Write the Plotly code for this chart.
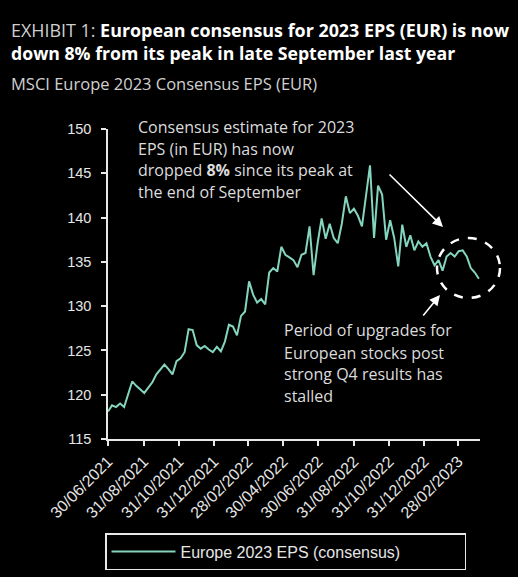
import plotly.graph_objects as go
import pandas as pd

# ---- data ----
series_name = "Europe 2023 EPS (consensus)"
start_date = "2021-06-30"
eps_values = [
    118.1, 118.8, 118.6, 119.0, 118.6, 120.0, 121.5, 121.0, 120.6, 120.2,
    120.8, 121.4, 122.3, 122.9, 123.4, 122.9, 122.3, 123.8, 124.1, 124.8,
    127.4, 127.3, 125.6, 125.2, 125.5, 125.1, 124.8, 125.4, 124.9, 126.0,
    127.9, 127.7, 126.7, 128.9, 129.4, 132.8, 131.3, 130.4, 130.8, 130.2,
    133.8, 134.3, 133.9, 136.7, 135.8, 135.5, 135.2, 134.4, 135.8, 136.0,
    139.0, 133.5, 137.1, 139.9, 137.6, 139.3, 137.7, 137.1, 139.3, 142.4,
    140.5, 141.0, 140.2, 139.0, 142.7, 145.9, 137.7, 143.6, 142.6, 137.5,
    139.7, 137.7, 134.5, 139.2, 136.7, 138.0, 136.3, 137.3, 136.7, 137.1,
    135.6, 134.6, 135.2, 134.0, 135.6, 136.0, 135.6, 136.2, 136.3, 135.6,
    134.3, 133.8, 133.1,
]
dates = pd.date_range(start=start_date, periods=len(eps_values), freq="7D")

tick_dates = ["2021-06-30", "2021-08-31", "2021-10-31", "2021-12-31", "2022-02-28",
              "2022-04-30", "2022-06-30", "2022-08-31", "2022-10-31", "2022-12-31",
              "2023-02-28"]
tick_labels = ["30/06/2021", "31/08/2021", "31/10/2021", "31/12/2021", "28/02/2022",
               "30/04/2022", "30/06/2022", "31/08/2022", "31/10/2022", "31/12/2022",
               "28/02/2023"]
y_ticks = [115, 120, 125, 130, 135, 140, 145, 150]

title_prefix = "EXHIBIT 1: "
title_line1 = "European consensus for 2023 EPS (EUR) is now"
title_line2 = "down 8% from its peak in late September last year"
subtitle = "MSCI Europe 2023 Consensus EPS (EUR)"
note1_lines = ["Consensus estimate for 2023", "EPS (in EUR) has now",
               "dropped <b>8%</b> since its peak at", "the end of September"]
note2_lines = ["Period of upgrades for", "European stocks post",
               "strong Q4 results has", "stalled"]

# ---- layout geometry (pixels) ----
W, H = 518, 577
L, R, T, B = 108, 38, 129, 138
pw, ph = W - L - R, H - T - B


def px(x):
    return (x - L) / pw


def py(y):
    return (H - B - y) / ph


LINE_COLOR = "#84d4be"
TEXT = "#dcdcdc"

fig = go.Figure()
fig.add_trace(go.Scatter(x=dates, y=eps_values, mode="lines", name=series_name,
                         line=dict(color=LINE_COLOR, width=2)))

annotations = []
# title
annotations.append(dict(xref="paper", yref="paper", x=px(9), y=py(30), xanchor="left", yanchor="middle",
                        text=f"<span style='color:#cfcfcf'>{title_prefix}</span><b>{title_line1}</b>",
                        showarrow=False, font=dict(family="Open Sans", size=17.9, color="#ffffff")))
annotations.append(dict(xref="paper", yref="paper", x=px(9), y=py(53), xanchor="left", yanchor="middle",
                        text=f"<b>{title_line2}</b>",
                        showarrow=False, font=dict(family="Open Sans", size=17.7, color="#ffffff")))
annotations.append(dict(xref="paper", yref="paper", x=px(9), y=py(84), xanchor="left", yanchor="middle",
                        text=subtitle, showarrow=False,
                        font=dict(family="Open Sans", size=16.5, color="#d0d0d0")))

for t, yy in zip(note1_lines, [127, 148.5, 169.5, 191.5]):
    annotations.append(dict(xref="paper", yref="paper", x=px(136), y=py(yy), xanchor="left", yanchor="middle",
                            text=t, showarrow=False,
                            font=dict(family="Open Sans", size=16, color=TEXT)))
for t, yy in zip(note2_lines, [330, 352.5, 374, 396]):
    annotations.append(dict(xref="paper", yref="paper", x=px(282), y=py(yy), xanchor="left", yanchor="middle",
                            text=t, showarrow=False,
                            font=dict(family="Open Sans", size=16, color=TEXT)))

# arrows
annotations.append(dict(xref="paper", yref="paper", x=px(443), y=py(227), text="", showarrow=True,
                        axref="pixel", ayref="pixel", ax=388 - 443, ay=173 - 227,
                        arrowhead=2, arrowsize=1.3, arrowwidth=1.6, arrowcolor="#ffffff"))
annotations.append(dict(xref="paper", yref="paper", x=px(440), y=py(295), text="", showarrow=True,
                        axref="pixel", ayref="pixel", ax=422 - 440, ay=317 - 295,
                        arrowhead=2, arrowsize=1.3, arrowwidth=1.6, arrowcolor="#ffffff"))

shapes = [dict(type="circle", xref="paper", yref="paper",
               x0=px(437), x1=px(500), y0=py(298), y1=py(238),
               line=dict(color="#ffffff", width=2.5, dash="dash"))]

fig.update_layout(
    width=W, height=H,
    margin=dict(l=L, r=R, t=T, b=B, pad=0, autoexpand=False),
    paper_bgcolor="#000000", plot_bgcolor="#000000",
    showlegend=True,
    legend=dict(orientation="h", xref="container", yref="container",
                x=105 / W, y=1 - 533 / H, xanchor="left", yanchor="top",
                bordercolor="#e8e8e8", borderwidth=1.5, bgcolor="#000000",
                font=dict(family="Liberation Sans", size=16, color="#e6e6e6"),
                itemwidth=64, entrywidth=279, entrywidthmode="pixels"),
    annotations=annotations,
    shapes=shapes,
    xaxis=dict(type="date", range=["2021-06-30", "2023-04-07"], automargin=False,
               tickvals=tick_dates, ticktext=tick_labels, tickangle=-45,
               showgrid=False, zeroline=False, showline=True, linecolor="#e8e8e8", linewidth=1.5,
               ticks="outside", ticklen=5, tickwidth=1.5, tickcolor="#e8e8e8",
               tickfont=dict(family="Liberation Sans", size=16, color="#e6e6e6")),
    yaxis=dict(range=[115, 150], tickvals=y_ticks, automargin=False, ticklabelstandoff=7,
               showgrid=False, zeroline=False, showline=True, linecolor="#e8e8e8", linewidth=1.5,
               ticks="outside", ticklen=5, tickwidth=1.5, tickcolor="#e8e8e8",
               tickfont=dict(family="Liberation Sans", size=14.5, color="#e6e6e6")),
)

fig.write_html("out.html", config={"displayModeBar": False},
               post_script="document.body.style.margin='0';document.body.style.background='#000';")
